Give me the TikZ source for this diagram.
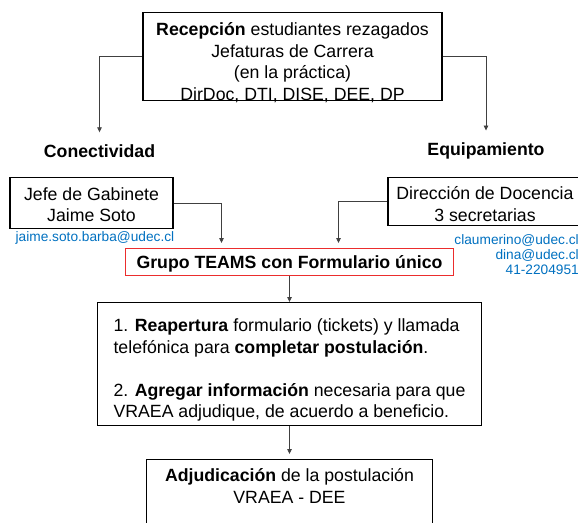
\documentclass[tikz,border=0pt]{standalone}
\usepackage{fontspec}
\setmainfont{Liberation Sans}
\usetikzlibrary{arrows.meta,positioning}
\definecolor{mailblue}{RGB}{0,112,192}
\definecolor{teamsred}{RGB}{235,45,45}

\begin{document}
\begin{tikzpicture}[
 x=1pt,y=-1pt,
 font=\fontsize{17.7}{21.5}\selectfont,
 box/.style={
  draw=black,
  line width=1.1pt,
  align=center,
  inner xsep=0pt,
  inner ysep=0pt,
  anchor=north
 },
 lbl/.style={font=\fontsize{17.7}{21.5}\selectfont\bfseries,inner ysep=12pt},
 mail/.style={font=\fontsize{13.7}{15}\selectfont,text=mailblue,inner sep=0pt},
 link/.style={-{Triangle[length=5pt,width=4.5pt]},line width=0.8pt,draw=black!75}
]
 \clip (0,0) rectangle (578,522);

 % text height = top to last baseline
 \node[box,minimum width=299pt,text height=87.5pt,text depth=0.5pt] (recep) at (292.5,12)
  {\textbf{Recepción} estudiantes rezagados\\Jefaturas de Carrera\\(en la práctica)\\DirDoc, DTI, DISE, DEE, DP};

 \node[lbl] (conec) at (99.5,151) {Conectividad};
 \node[lbl] (equip) at (486,151) {Equipamiento};

 \node[box,minimum width=163pt,text height=44pt,text depth=7pt] (jefe) at (91.5,177)
  {Jefe de Gabinete\\Jaime Soto};
 \node[mail] (mjefe) at (95,238) {jaime.soto.barba@udec.cl};
 \node[box,minimum width=194pt,text height=43.5pt,text depth=4.5pt] (dirdoc) at (485,177)
  {Dirección de Docencia\\3 secretarias};
 \node[mail,align=right,anchor=base east] (mdir) at (579,274)
  {claumerino@udec.cl\\dina@udec.cl\\41-2204951};

 \node[box,draw=teamsred,line width=0.9pt,minimum width=328pt,text height=20.5pt,text depth=6.5pt,
  font=\fontsize{17.7}{21.5}\selectfont\bfseries] (teams) at (289.5,248)
  {Grupo TEAMS con Formulario único};
 \node[box,align=left,minimum width=384pt,text height=115pt,text depth=8pt] (tareas) at (289.5,302)
  {1. \textbf{Reapertura} formulario (tickets) y llamada\\telefónica para \textbf{completar postulación}.\\[21.5pt]2. \textbf{Agregar información} necesaria para que\\VRAEA adjudique, de acuerdo a beneficio.};
 \node[box,minimum width=286pt,text height=43.5pt,text depth=60pt] (adju) at (289.5,459)
  {\textbf{Adjudicación} de la postulación\\VRAEA - DEE};

 \draw[link] (recep.west) -| (conec.north);
 \draw[link] (recep.east) -| (equip.north);
 \draw[link,shorten >=5pt] (jefe.east) -| ([xshift=-68pt]teams.north);
 \draw[link,shorten >=5pt] (dirdoc.west) -| ([xshift=49pt]teams.north);
 \draw[link] (teams.south) -- (tareas.north);
 \draw[link,shorten >=5pt] (tareas.south) -- (adju.north);
\end{tikzpicture}
\end{document}
